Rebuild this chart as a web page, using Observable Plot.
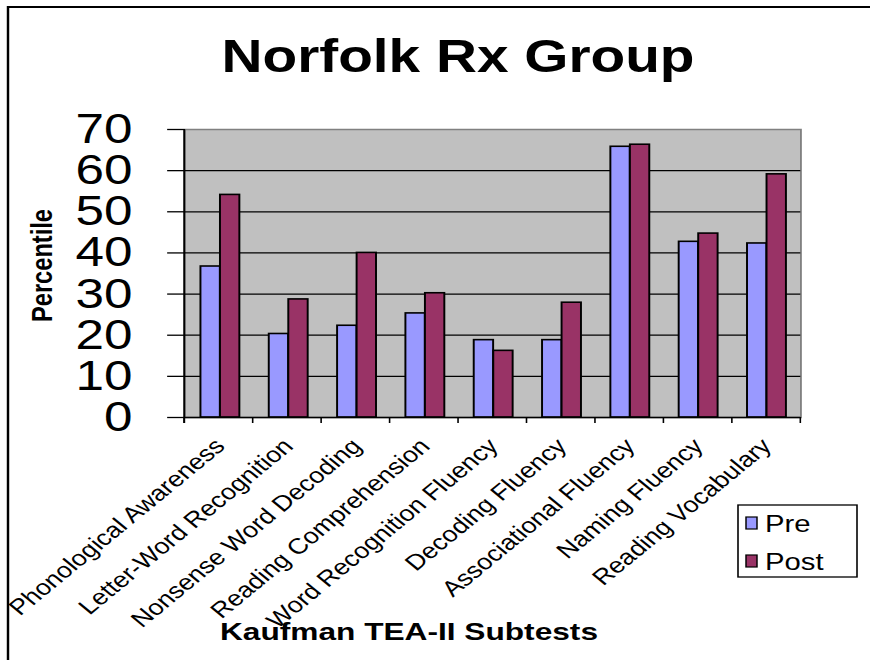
<!DOCTYPE html>
<html><head><meta charset="utf-8">
<script src="https://cdn.jsdelivr.net/npm/d3@7"></script>
<script src="https://cdn.jsdelivr.net/npm/@observablehq/plot@0.6"></script>
<style>html,body{margin:0;padding:0;background:#fff;} svg{display:block}</style>
</head><body><div id="chart"></div>
<script>
const categories = ["Phonological Awareness","Letter-Word Recognition","Nonsense Word Decoding","Reading Comprehension","Word Recognition Fluency","Decoding Fluency","Associational Fluency","Naming Fluency","Reading Vocabulary"];
const preValues = [36.7, 20.3, 22.3, 25.3, 18.8, 18.8, 65.8, 42.7, 42.3];
const postValues = [54.1, 28.7, 40.0, 30.2, 16.2, 27.9, 66.3, 44.7, 59.1];
const yTicks = [0, 10, 20, 30, 40, 50, 60, 70];
const seriesNames = ["Pre", "Post"];
const seriesColors = ["#9999FF", "#993366"];
const chartTitle = "Norfolk Rx Group";
const xTitle = "Kaufman TEA-II Subtests";
const yTitle = "Percentile";

const rows = categories.map((c, i) => ({test: c, pre: preValues[i], post: postValues[i]}));

const S = 1.22, W = 870, H = 660, CW = W / S;
const font = "'Liberation Sans', Arial, sans-serif";

const plot = Plot.plot({
  width: CW, height: H,
  marginLeft: 151, marginRight: CW - 656, marginTop: 129, marginBottom: 243,
  style: {fontFamily: font, color: "black", background: "transparent", overflow: "visible"},
  x: {domain: categories, padding: 0, axis: null},
  y: {domain: [0, 70], axis: null},
  marks: [
    Plot.frame({fill: "#C0C0C0", stroke: "#808080", strokeWidth: 1.5}),
    Plot.ruleY(yTicks.slice(1, -1), {stroke: "black", strokeWidth: 1.3}),
    Plot.barY(rows, {x: "test", y: "pre", fill: seriesColors[0], stroke: "black", strokeWidth: 1.6, insetLeft: 12.3, insetRight: 27.8}),
    Plot.barY(rows, {x: "test", y: "post", fill: seriesColors[1], stroke: "black", strokeWidth: 1.6, insetLeft: 28.3, insetRight: 11.8}),
    Plot.ruleY([0], {stroke: "black", strokeWidth: 1.6}),
    Plot.axisY({ticks: yTicks, tickSize: 14, tickPadding: 29, fontSize: 42, label: null, tickFormat: d => String(d), stroke: "black", strokeWidth: 1.3}),
    Plot.text(rows, {x: "test", text: "test", frameAnchor: "bottom", dy: 25, dx: 0, rotate: -45, textAnchor: "end", lineAnchor: "middle", fontSize: 22, fill: "black"})
  ]
});

const svg = d3.select(plot);
svg.attr("width", W).attr("height", H)
  .attr("viewBox", `0 0 ${CW} ${H}`)
  .attr("preserveAspectRatio", "none")
  .style("width", W + "px").style("height", H + "px").style("max-width", "none");

const xs = plot.scale("x"), ys = plot.scale("y");
const [r0, r1] = xs.range;
const n = xs.domain.length;
const y0 = ys.apply(0), yTop = ys.apply(70);
const g = svg.append("g").attr("stroke", "black").attr("stroke-width", 1.3);
for (let i = 0; i <= n; i++) {
  const x = r0 + i * (r1 - r0) / n;
  g.append("line").attr("x1", x).attr("x2", x).attr("y1", y0).attr("y2", y0 + 6);
}
g.append("line").attr("x1", r0).attr("x2", r0).attr("y1", yTop).attr("y2", y0 + 6).attr("stroke-width", 1.6);

// outer chart border (top and left)
svg.append("path").attr("d", `M${8 / S},${H} V7 H${CW + 5}`).attr("fill", "none").attr("stroke", "black").attr("stroke-width", 2);

// title
svg.append("text").text(chartTitle).attr("x", 458 / S).attr("y", 72)
  .attr("text-anchor", "middle").attr("font-family", font).attr("font-weight", "bold").attr("font-size", 46)
  .attr("textLength", 473 / S).attr("lengthAdjust", "spacingAndGlyphs");

// y title
svg.append("text").text(yTitle)
  .attr("transform", `translate(${52 / S},265.5) rotate(-90)`)
  .attr("text-anchor", "middle").attr("font-family", font).attr("font-weight", "bold").attr("font-size", 24)
  .attr("textLength", 113).attr("lengthAdjust", "spacingAndGlyphs");

// x title
svg.append("text").text(xTitle).attr("x", 409 / S).attr("y", 640)
  .attr("text-anchor", "middle").attr("font-family", font).attr("font-weight", "bold").attr("font-size", 23)
  .attr("textLength", 378 / S).attr("lengthAdjust", "spacingAndGlyphs");

// legend
const lg = svg.append("g").attr("font-family", font).attr("font-size", 24).attr("text-anchor", "start");
lg.append("rect").attr("x", 738 / S).attr("y", 505).attr("width", (857 - 738) / S).attr("height", 72)
  .attr("fill", "white").attr("stroke", "black").attr("stroke-width", 1.3);
seriesNames.forEach((name, i) => {
  const cy = 523 + i * 38;
  lg.append("rect").attr("x", 746 / S).attr("y", cy - 6).attr("width", 11 / S).attr("height", 12)
    .attr("fill", seriesColors[i]).attr("stroke", "black").attr("stroke-width", 1.2);
  lg.append("text").text(name).attr("x", 765 / S).attr("y", cy + 9).attr("fill", "black").attr("text-anchor", "start");
});

document.getElementById("chart").appendChild(plot);
</script>
</body></html>
